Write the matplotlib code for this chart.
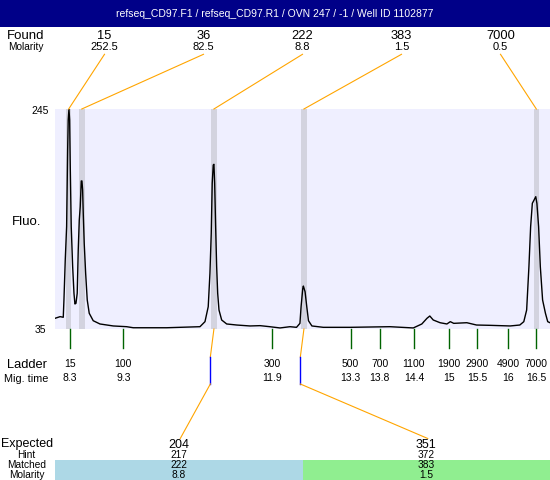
"""Electropherogram view: found peaks, ladder, expected/matched table."""

import matplotlib
matplotlib.use("Agg")
import matplotlib.pyplot as plt
import numpy as np
from matplotlib.patches import Rectangle

TITLE = "refseq_CD97.F1 / refseq_CD97.R1 / OVN 247 / -1 / Well ID 1102877"

# trace: migration time (s) / fluorescence
trace_time = [8.05, 8.14, 8.195, 8.207, 8.23, 8.254, 8.272, 8.282, 8.295, 8.307,
              8.318, 8.335, 8.36, 8.383, 8.40, 8.418, 8.44, 8.458, 8.476, 8.493,
              8.511, 8.523, 8.535, 8.546, 8.563, 8.588, 8.616, 8.651, 8.721, 8.839,
              9.073, 9.308, 9.424, 10.01, 10.595, 10.683, 10.74, 10.77, 10.793, 10.81,
              10.828, 10.84, 10.853, 10.87, 10.888, 10.906, 10.929, 10.976, 11.064, 11.24,
              11.473, 11.65, 11.82, 12.0, 12.175, 12.29, 12.35, 12.37, 12.40, 12.41,
              12.44, 12.47, 12.50, 12.56, 12.76, 13.23, 13.93, 14.34, 14.49, 14.58,
              14.63, 14.69, 14.81, 14.93, 14.99, 15.05, 15.28, 15.45, 15.69, 16.04,
              16.21, 16.28, 16.33, 16.37, 16.40, 16.43, 16.46, 16.49, 16.51, 16.54,
              16.57, 16.61, 16.66, 16.70, 16.74]
trace_fluo = [45.2, 46.8, 46.2, 62.7, 100.9, 132.7, 205.9, 234.5, 245, 234.5,
              189.9, 132.7, 94.5, 69.1, 58.9, 59.5, 69.1, 110.4, 139, 151.7,
              176.3, 176.3, 167.7, 145.4, 116.8, 88.2, 62.7, 50, 42.9, 39.8,
              37.9, 37.2, 36.2, 36.2, 37.2, 42, 56.3, 88.2, 126.4, 174.1,
              191.5, 192.2, 174.1, 132.7, 94.5, 69.1, 53.1, 43.6, 39.8, 38.8,
              37.9, 38.2, 37.2, 36, 37.2, 36.6, 40.4, 56.3, 73.8, 76,
              70.6, 56.3, 42.9, 37.9, 36.6, 36.6, 37.2, 36, 39.8, 45.2,
              47.4, 43.6, 41, 39.8, 42, 40.4, 41, 38.8, 38.5, 37.9,
              38.8, 42, 53.1, 94.5, 132.7, 155, 158.1, 161.3, 155, 132.7,
              94.5, 62.7, 50, 42, 41]

found_size = [15, 36, 222, 383, 7000]
found_molarity = ["252.5", "82.5", "8.8", "1.5", "0.5"]
found_time = [8.29, 8.52, 10.84, 12.42, 16.50]

ladder_size = [15, 100, 300, 500, 700, 1100, 1900, 2900, 4900, 7000]
ladder_time = [8.31, 9.25, 11.86, 13.24, 13.75, 14.35, 14.97, 15.46, 16.0, 16.5]
ladder_time_label = ["8.3", "9.3", "11.9", "13.3", "13.8", "14.4", "15", "15.5", "16", "16.5"]

expected_size = [204, 351]
hint_size = [217, 372]
matched_size = [222, 383]
matched_molarity = ["8.8", "1.5"]
matched_colors = ["#ADD8E6", "#90EE90"]

FLUO_MIN, FLUO_MAX = 35, 245

W, H = 550, 480
L, T, R, B = 55, 109, 550, 329  # plot box in pixels
ORANGE = "#FFA500"
GREEN = "#006400"
FONT = "Liberation Sans"


def main() -> None:
    plt.rcParams["font.family"] = [FONT, "DejaVu Sans"]
    fig = plt.figure(figsize=(W / 100, H / 100), dpi=100, facecolor="white")

    ax = fig.add_axes([L / W, 1 - B / H, (R - L) / W, (B - T) / H])
    ax.set_facecolor("#EFEFFF")
    ax.set_xlim(8.05, 16.74)
    ax.set_ylim(FLUO_MIN, FLUO_MAX)
    ax.set_xticks([])
    ax.set_yticks([])
    for s in ax.spines.values():
        s.set_visible(False)
    for t in found_time:
        ax.axvspan(t - 0.048, t + 0.048, color="#D3D3DF", lw=0, zorder=1)
    ax.plot(trace_time, trace_fluo, color="black", lw=1.0, zorder=3)

    # pixel overlay for everything around the plot
    ov = fig.add_axes([0, 0, 1, 1])
    ov.set_xlim(0, W)
    ov.set_ylim(H, 0)
    ov.axis("off")
    ov.patch.set_alpha(0)

    def to_px(t):
        disp = ax.transData.transform((t, FLUO_MIN))
        return ov.transData.inverted().transform(disp)[0]

    # title bar
    ov.add_patch(Rectangle((0, 0), W, 27, color="#000088", lw=0))
    ov.text(W / 2, 17.3, TITLE, color="white", fontsize=7.5, ha="center", va="baseline")

    # found row
    ov.text(26, 39, "Found", fontsize=9.5, ha="center", va="baseline")
    ov.text(26, 50, "Molarity", fontsize=7.3, ha="center", va="baseline")
    col = (R - L) / len(found_size)
    for i, (sz, mol, t) in enumerate(zip(found_size, found_molarity, found_time)):
        x = L + (i + 0.5) * col
        ov.text(x, 39, str(sz), fontsize=9.3, ha="center", va="baseline")
        ov.text(x, 50.5, mol, fontsize=8, ha="center", va="baseline")
        ov.plot([x, to_px(t)], [54.3, T], color=ORANGE, lw=0.8)

    # y labels
    ov.text(40.5, 114.3, str(FLUO_MAX), fontsize=7.5, ha="center", va="baseline")
    ov.text(40.5, 333.3, str(FLUO_MIN), fontsize=7.5, ha="center", va="baseline")
    ov.text(27, 225, "Fluo.", fontsize=9.5, ha="center", va="baseline")

    # ladder
    ov.text(27, 367.7, "Ladder", fontsize=9.3, ha="center", va="baseline")
    ov.text(26.5, 381.7, "Mig. time", fontsize=7.8, ha="center", va="baseline")
    for sz, t, lab in zip(ladder_size, ladder_time, ladder_time_label):
        x = to_px(t)
        ov.plot([x, x], [B, 348], color=GREEN, lw=1.0)
        ov.text(x, 366.7, str(sz), fontsize=7.5, ha="center", va="baseline")
        ov.text(x, 381, lab, fontsize=7.5, ha="center", va="baseline")

    # expected / matched table
    ov.text(27, 447, "Expected", fontsize=9, ha="center", va="baseline")
    ov.text(26, 458.3, "Hint", fontsize=7.3, ha="center", va="baseline")
    ov.text(26.7, 468.3, "Matched", fontsize=7.3, ha="center", va="baseline")
    ov.text(27, 477.7, "Molarity", fontsize=7.3, ha="center", va="baseline")
    ecol = (R - L) / len(expected_size)
    for i in range(len(expected_size)):
        x = L + (i + 0.5) * ecol
        ov.add_patch(Rectangle((L + i * ecol, 460), ecol, 20, color=matched_colors[i], lw=0))
        ov.text(x, 447.7, str(expected_size[i]), fontsize=9, ha="center", va="baseline")
        ov.text(x, 458.5, str(hint_size[i]), fontsize=7.3, ha="center", va="baseline")
        ov.text(x, 468.3, str(matched_size[i]), fontsize=7.3, ha="center", va="baseline")
        ov.text(x, 477.5, matched_molarity[i], fontsize=7.3, ha="center", va="baseline")

        peak_x = to_px(found_time[found_size.index(matched_size[i])])
        hint_x = to_px(np.interp(hint_size[i], ladder_size, ladder_time))
        ov.plot([peak_x, hint_x], [B, 357], color=ORANGE, lw=0.8)
        ov.plot([hint_x, hint_x], [357, 384], color="#0000FF", lw=1.0)
        ov.plot([hint_x, x + 1.5], [384, 438.5], color=ORANGE, lw=0.8)

    fig.savefig("out.png", dpi=100, facecolor="white")
    plt.close(fig)


if __name__ == "__main__":
    main()
